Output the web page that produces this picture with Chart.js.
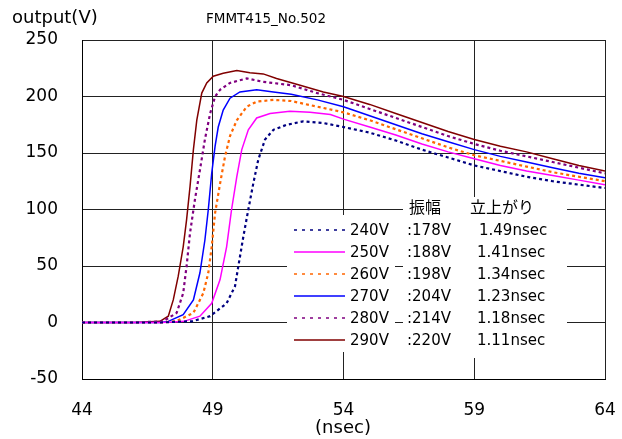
<!DOCTYPE html>
<html><head><meta charset="utf-8">
<script src="https://cdn.jsdelivr.net/npm/chart.js@4/dist/chart.umd.min.js"></script>
<style>html,body{margin:0;padding:0;background:#fff}#wrap{width:622px;height:439px}</style>
</head><body><div id="wrap"><canvas id="c" width="622" height="439"></canvas></div>
<script>
const chartTitle = "FMMT415_No.502";
const yTitle = "output(V)";
const xTitle = "(nsec)";
const seriesNames = ["240V","250V","260V","270V","280V","290V"];
const amplitudes = [":178V",":188V",":198V",":204V",":214V",":220V"];
const riseTimes = ["1.49nsec","1.41nsec","1.34nsec","1.23nsec","1.18nsec","1.11nsec"];
const legendHeader = ["振幅","立上がり"];
const tail = [54,55,56,57,58,59,60,61,62,63,64];

const t240 = [44,45,46,47,47.5,48,48.2,48.9,49.53,49.85,49.98,50.17,50.36,50.55,50.74,51.0,51.32,51.83,52.46,53.23].concat(tail);
const v240 = [0,0,0,0,0.5,1,1,5.6,17,32,50,76,100,123,144,162,170.5,175,178,176.5,173,168,161,153,146,139,134,129,125,122,119];
const t250 = [44,45,46,47,47.5,47.9,48.51,48.96,49.28,49.53,49.72,49.92,50.11,50.36,50.68,51.19,51.95,52.72,53.5].concat(tail);
const v250 = [0,0,0,0,0.5,1,5.6,17,38,67,100,129,153,170.5,181,185,187,186,184,180,173,166,158,151,145,139,134,130,126,122];
const t260 = [44,45,46,47,47.6,48.26,48.64,48.83,48.96,49.09,49.28,49.47,49.66,49.92,50.3,50.68,51.32,52,53].concat(tail);
const v260 = [0,0,0,0,1,8.5,26,44,67,97,123,147,165,179,191,195.5,197,196,191,186,179,171,163,155,148,143,138,133,129,125];
const t270 = [44,45,46,47,47.3,47.87,48.26,48.51,48.70,48.83,48.96,49.09,49.21,49.40,49.66,50.04,50.68,51.32,52,53].concat(tail);
const v270 = [0,0,0,0,1,7,20,44,73,100,132,156,173,188,198.5,204,206,204,202,197,191,183,175,167,160,153,147,142,137,132,128];
const t280 = [44,45,46,47.1,47.62,47.87,48.0,48.13,48.32,48.51,48.70,48.9,49.09,49.28,49.66,50.3,50.93,52,53].concat(tail);
const v280 = [0,0,0,1,8.5,26,50,79,109,135,162,185,200,206,212,216,213,210,203,197,189,181,173,165,158,152,147,142,137,132];
const t290 = [44,45,46,46.98,47.30,47.49,47.68,47.87,48.0,48.13,48.26,48.39,48.58,48.77,49.02,49.40,49.92,50.42,50.93,51.44,52.34,53.23].concat(tail);
const v290 = [0,0,0,1,5.6,20,41,67,91,120,153,179,203,212,218,220.5,223,221,220,216,210,204,200,193,185,177,169,162,156,151,145,139,134];

const times = [t240,t250,t260,t270,t280,t290];
const values = [v240,v250,v260,v270,v280,v290];
const colors = ["#000080","#FF00FF","#FF6600","#0000FF","#800080","#800000"];
const dashed = [true,false,true,false,true,false];

const FONT = "'DejaVu Sans', 'Noto Sans CJK JP', sans-serif";
const JFONT = "'Noto Sans CJK JP', sans-serif";

const datasets = seriesNames.map((n,i)=>({
  label:n,
  data: times[i].map((t,j)=>({x:t,y:values[i][j]})),
  borderColor: colors[i],
  backgroundColor: colors[i],
  borderWidth: dashed[i] ? 2.2 : 1.5,
  borderDash: dashed[i] ? [3,3] : [],
  pointRadius:0, tension:0, fill:false
}));

const overlay = {
  id:'overlay',
  afterDatasetsDraw(chart){
    const ctx = chart.ctx;
    ctx.save();
    ctx.fillStyle = '#fff';
    ctx.fillRect(287,215,108,137);
    ctx.fillRect(403,197,164,161);
    ctx.fillStyle = '#000';
    ctx.textBaseline = 'middle';
    ctx.textAlign = 'left';
    ctx.font = "16px " + JFONT;
    ctx.fillText(legendHeader[0], 409, 207);
    ctx.fillText(legendHeader[1], 470, 207);
    ctx.font = "15px " + FONT;
    for (let i=0;i<seriesNames.length;i++){
      const y = 230 + i*22;
      ctx.beginPath();
      ctx.strokeStyle = colors[i];
      ctx.lineWidth = dashed[i] ? 1.6 : 1.4;
      ctx.setLineDash(dashed[i] ? [3,5] : []);
      ctx.moveTo(294,y); ctx.lineTo(345,y); ctx.stroke();
      ctx.setLineDash([]);
      ctx.fillStyle = '#000';
      ctx.fillText(seriesNames[i], 350, y+1);
      ctx.fillText(amplitudes[i], 407, y+1);
      ctx.fillText(riseTimes[i], i===0 ? 479 : 477, y+1);
    }
    ctx.restore();
  },
  afterDraw(chart){
    const ctx = chart.ctx;
    ctx.save();
    ctx.fillStyle = '#000';
    ctx.textBaseline = 'middle';
    ctx.font = "18px " + FONT;
    ctx.textAlign = 'left';
    ctx.fillText(yTitle, 12, 18);
    ctx.font = "13.5px " + FONT;
    ctx.fillText(chartTitle, 206, 19);
    ctx.font = "18px " + FONT;
    ctx.textAlign = 'center';
    ctx.fillText(xTitle, 343, 428);
    ctx.restore();
  }
};

new Chart(document.getElementById('c'), {
  type:'line',
  data:{datasets},
  options:{
    responsive:false, animation:false,
    layout:{padding:{left:0,right:17,top:40,bottom:0}},
    plugins:{legend:{display:false}, title:{display:false}, tooltip:{enabled:false}},
    scales:{
      x:{type:'linear', min:44, max:64,
        ticks:{stepSize:5, color:'#000', font:{size:17, family:FONT}, padding:21},
        grid:{color:'#222', lineWidth:1, drawTicks:false},
        border:{color:'#000', width:1},
        afterFit(s){ s.height = 60; s.paddingLeft = 0; s.paddingRight = 0; }
      },
      y:{min:-50, max:250,
        ticks:{stepSize:50, color:'#000', font:{size:17, family:FONT}, padding:24},
        grid:{color:'#222', lineWidth:1, drawTicks:false},
        border:{color:'#000', width:1},
        afterFit(s){ s.width = 82; s.paddingTop = 0; s.paddingBottom = 0; }
      }
    }
  },
  plugins:[overlay]
});
</script></body></html>
